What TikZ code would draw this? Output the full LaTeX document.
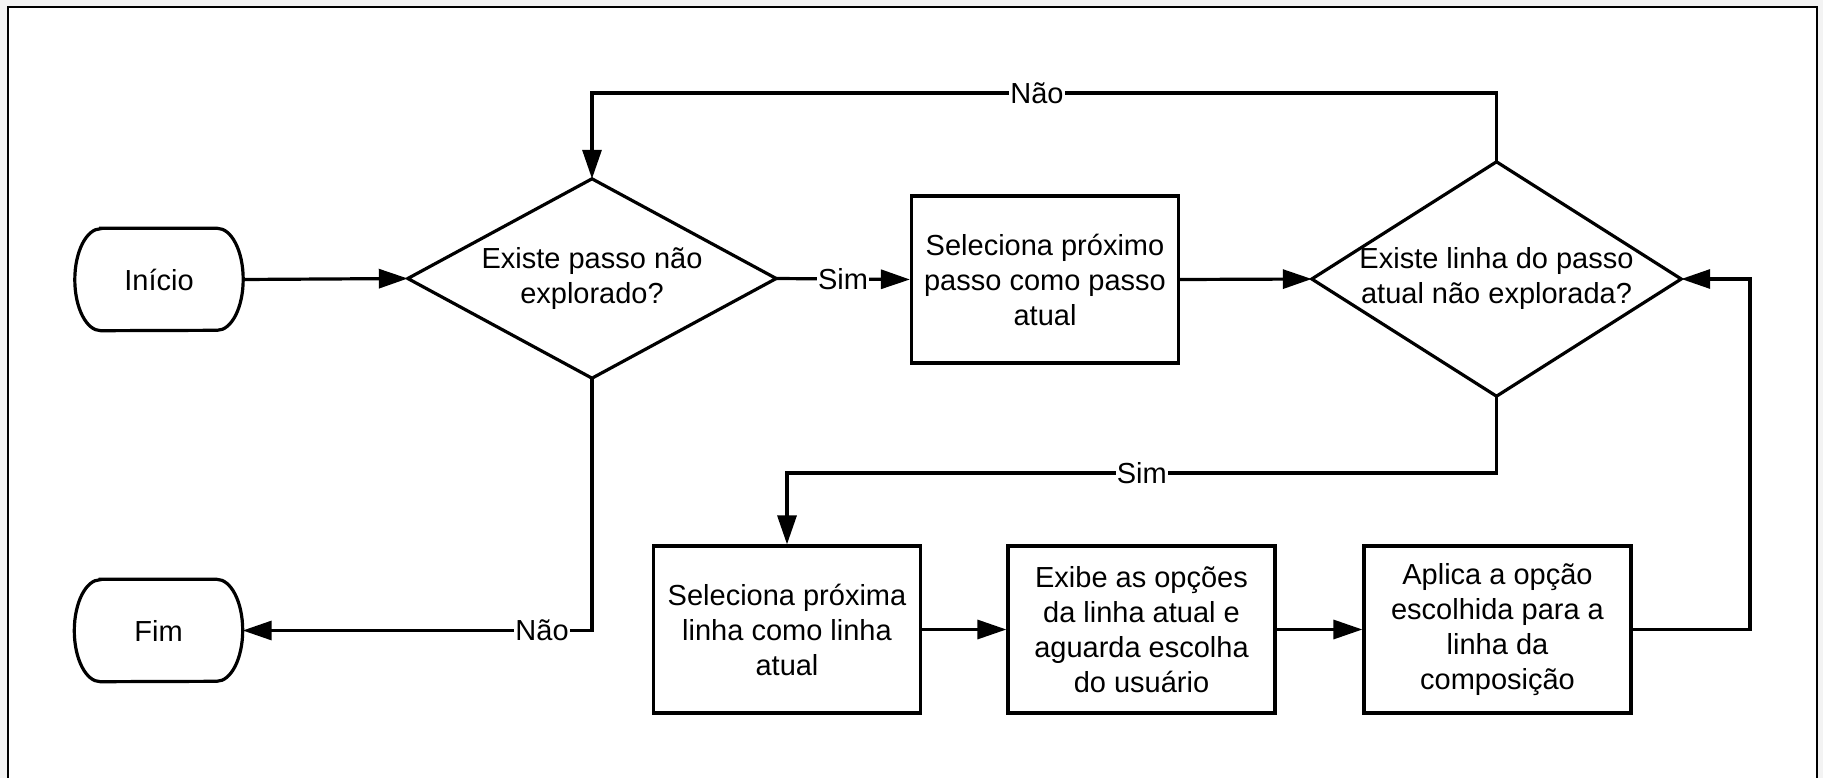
\documentclass[tikz,border=0pt]{standalone}
\usepackage{fontspec}
\setmainfont{Liberation Sans}
\usetikzlibrary{arrows.meta,calc}
\newcommand{\lblfont}{\fontsize{29pt}{35pt}\selectfont}
\definecolor{bggray}{RGB}{243,243,243}
\tikzset{
  shapeline/.style={line width=3.2pt, line join=miter},
  boxnode/.style={draw, line width=3.2pt, minimum width=267pt, minimum height=167pt, align=center, inner sep=0pt, font=\lblfont},
  dianode/.style={align=center, inner sep=0pt, font=\lblfont},
  termnode/.style={minimum width=168pt, minimum height=102pt, inner sep=0pt, font=\lblfont},
  conn/.style={line width=3.2pt, -{Triangle[length=29pt,width=19pt]}},
  edgelabel/.style={fill=white, inner sep=1pt, font=\lblfont},
}
\begin{document}
\begin{tikzpicture}[x=1pt,y=1pt]
\useasboundingbox (0,0) rectangle (1823,-778);
\fill[bggray] (0,0) rectangle (1823,-778);
\fill[white] (8,-7) rectangle (1817,-778);
\draw[line width=2.6pt] (8,-778) -- (8,-7) -- (1817,-7) -- (1817,-778);

% terminators
\node[termnode] (ini) at (159,-279.5) {Início};
\draw[shapeline] ($(ini.north west)+(26,0)$) -- ($(ini.north east)+(-26,0)$)
  arc[start angle=90,end angle=-90,x radius=26pt,y radius=51pt]
  -- ($(ini.south west)+(26,0)$)
  arc[start angle=270,end angle=90,x radius=26pt,y radius=51pt] -- cycle;

\node[termnode] (fim) at (158.5,-630.5) {Fim};
\draw[shapeline] ($(fim.north west)+(26,0)$) -- ($(fim.north east)+(-26,0)$)
  arc[start angle=90,end angle=-90,x radius=26pt,y radius=51pt]
  -- ($(fim.south west)+(26,0)$)
  arc[start angle=270,end angle=90,x radius=26pt,y radius=51pt] -- cycle;

% decisions
\node[dianode, minimum width=368pt, minimum height=199pt] (d1) at (592,-278.5) {Existe passo não\\explorado?};
\draw[shapeline] (d1.north) -- (d1.east) -- (d1.south) -- (d1.west) -- cycle;

\node[dianode, minimum width=369pt, minimum height=234pt] (d2) at (1496.5,-279) {Existe linha do passo\\atual não explorada?};
\draw[shapeline] (d2.north) -- (d2.east) -- (d2.south) -- (d2.west) -- cycle;

% processes
\node[boxnode] (b1) at (1045,-279.5) {Seleciona próximo\\passo como passo\\atual};
\node[boxnode] (b2) at (787,-629.5) {Seleciona próxima\\linha como linha\\atual};
\node[boxnode] (b3) at (1141.5,-629.5) {Exibe as opções\\da linha atual e\\aguarda escolha\\do usuário};
\node[boxnode] (b4) at (1497.5,-629.5) {Aplica a opção\\escolhida para a\\linha da\\composição};

% helper coordinates
\coordinate (ytop) at (0,-93);
\coordinate (ysim) at (0,-473);
\coordinate (xret) at (1750,0);

% connectors
\draw[conn] (ini.east) -- (d1.west);
\draw[conn] (d1.east) -- node[edgelabel]{Sim} (b1.west);
\draw[conn] (b1.east) -- (d2.west);
\draw[conn] (d2.north) -- (d2.north |- ytop) -- node[edgelabel, pos=0.508]{Não} (d1.north |- ytop) -- (d1.north);
\draw[conn] (d1.south) -- (d1.south |- fim.east) -- node[edgelabel, pos=0.143]{Não} (fim.east);
\draw[conn] (d2.south) -- (d2.south |- ysim) -- node[edgelabel, pos=0.5]{Sim} (b2.north |- ysim) -- (b2.north);
\draw[conn] (b2.east) -- (b3.west);
\draw[conn] (b3.east) -- (b4.west);
\draw[conn] (b4.east) -- (b4.east -| xret) -- (d2.east -| xret) -- (d2.east);
\end{tikzpicture}
\end{document}
